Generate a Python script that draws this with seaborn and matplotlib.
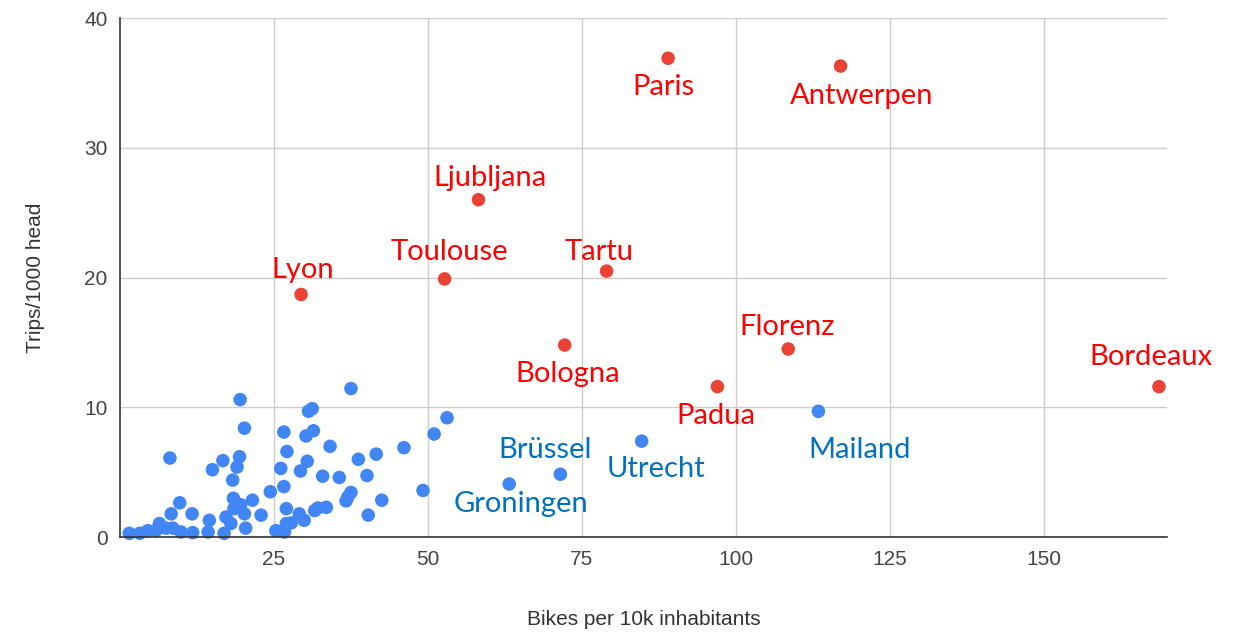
import matplotlib
matplotlib.use("Agg")
import matplotlib.pyplot as plt
import seaborn as sns
import pandas as pd

# cities that get a name label
cities = ["Paris", "Antwerpen", "Ljubljana", "Lyon", "Toulouse", "Tartu", "Bologna",
          "Florenz", "Bordeaux", "Padua", "Mailand", "Utrecht", "Brüssel", "Groningen"]
city_bikes = [89.0, 117.0, 58.2, 29.4, 52.7, 79.0, 72.2, 108.5, 168.7, 97.0,
              113.4, 84.7, 71.5, 63.2]
city_trips = [36.9, 36.3, 26.0, 18.7, 19.9, 20.5, 14.8, 14.5, 11.6, 11.6,
              9.7, 7.4, 4.85, 4.1]
city_group = ["high", "high", "high", "high", "high", "high", "high",
              "high", "high", "high", "low", "low", "low", "low"]

# all the other (unlabelled) cities
other_bikes = [1.5, 3.2, 4.5, 5.9, 6.4, 7.5, 8.6, 9.9, 11.8, 8.1, 8.3, 9.7, 11.7,
               14.3, 14.5, 15.0, 16.7, 17.2, 16.9, 18.0, 18.3, 18.4, 18.5, 19.0,
               19.4, 19.5, 19.6, 20.2, 20.2, 20.4, 21.5, 22.9,
               24.4, 25.3, 26.1, 26.6, 26.6, 26.7, 27.0, 27.0, 27.1, 27.8, 29.1,
               29.3, 29.9, 30.2, 30.4, 30.6, 31.2, 31.4, 31.6, 32.1, 32.9, 33.5,
               34.1, 35.6, 36.7, 37.0, 37.5, 37.5, 38.7, 40.1, 40.3, 41.6, 42.5,
               46.1, 49.2, 51.0, 53.1]
other_trips = [0.3, 0.3, 0.5, 0.55, 1.05, 0.7, 0.7, 0.4, 0.35, 6.1, 1.8, 2.65, 1.8,
               0.4, 1.3, 5.2, 5.9, 1.55, 0.3, 1.05, 4.4, 3.0, 2.2, 5.4,
               6.2, 10.6, 2.5, 8.4, 1.8, 0.7, 2.85, 1.7,
               3.5, 0.5, 5.3, 8.1, 3.9, 0.4, 2.2, 1.05, 6.6, 1.1, 1.8,
               5.1, 1.3, 7.8, 5.85, 9.7, 9.9, 8.2, 2.05, 2.25, 4.7, 2.3,
               7.0, 4.6, 2.8, 3.1, 3.45, 11.45, 6.0, 4.75, 1.7, 6.4, 2.85,
               6.9, 3.6, 7.95, 9.2]

# label offsets in pixels from the dot
label_offsets = {
    "Paris": (-5, -29), "Antwerpen": (21, -30), "Ljubljana": (12, 22),
    "Lyon": (2, 24), "Toulouse": (5, 27), "Tartu": (-7, 19),
    "Bologna": (3, -29), "Florenz": (-1, 22), "Bordeaux": (-8, 30),
    "Padua": (-2, -29), "Mailand": (41, -39), "Utrecht": (14, -28),
    "Brüssel": (-15, 24), "Groningen": (12, -20),
}

dot_colors = {"high": "#ea4335", "low": "#4285f4"}
text_colors = {"high": "#ff0000", "low": "#0070c0"}

df = pd.DataFrame({
    "bikes": other_bikes + city_bikes,
    "trips": other_trips + city_trips,
    "group": ["low"] * len(other_bikes) + city_group,
})

sns.set_style("white")
plt.rcParams["font.family"] = ["Liberation Sans", "DejaVu Sans"]

fig = plt.figure(figsize=(12.4, 6.32), dpi=100)
ax = fig.add_axes([0.0968, 0.150, 0.8443, 0.8215])

sns.scatterplot(data=df, x="bikes", y="trips", hue="group", palette=dot_colors,
                s=95, edgecolor="none", legend=False, ax=ax, zorder=3, clip_on=False)

for name, bx, ty, grp in zip(cities, city_bikes, city_trips, city_group):
    dx, dy = label_offsets[name]
    ax.annotate(name, (bx, ty), xytext=(dx, dy), textcoords="offset pixels",
                ha="center", va="center", color=text_colors[grp],
                fontsize=21, family=["Lato", "DejaVu Sans"])

ax.set_xlim(0, 170)
ax.set_ylim(0, 40)
ax.set_xticks([25, 50, 75, 100, 125, 150])
ax.set_yticks([0, 10, 20, 30, 40])
ax.tick_params(length=0, labelsize=15, labelcolor="#444444", pad=9)
ax.grid(True, color="#cccccc", linewidth=1)
ax.set_axisbelow(True)
for side in ["top", "right"]:
    ax.spines[side].set_visible(False)
for side in ["left", "bottom"]:
    ax.spines[side].set_color("#333333")
    ax.spines[side].set_linewidth(1.2)
    ax.spines[side].set_zorder(4)

ax.set_xlabel("Bikes per 10k inhabitants", fontsize=15, color="#333333", labelpad=30)
ax.set_ylabel("Trips/1000 head", fontsize=15, color="#333333", labelpad=28)

fig.savefig("out.png", dpi=100)
